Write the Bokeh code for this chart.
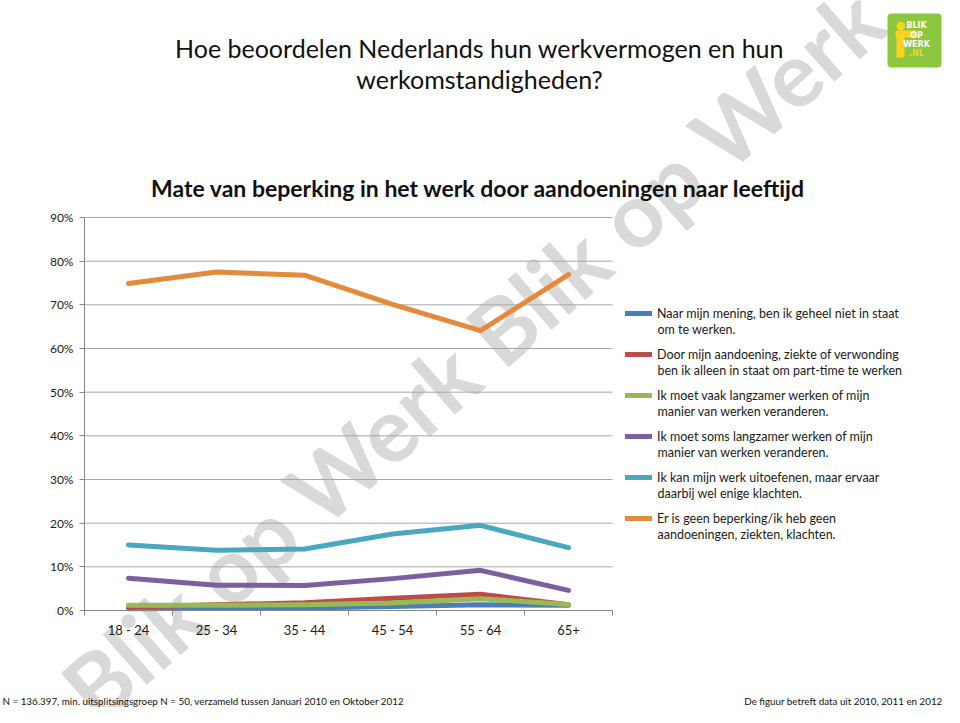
from bokeh.plotting import figure
from bokeh.models import FixedTicker, Label, Legend, LegendItem, BoxAnnotation, PolyAnnotation, Range1d
from bokeh.embed import file_html
from bokeh.resources import INLINE
import numpy as np

categories = ["18 - 24", "25 - 34", "35 - 44", "45 - 54", "55 - 64", "65+"]

geheel_niet = [0.4, 0.5, 0.6, 0.9, 1.3, 1.2]
part_time = [0.8, 1.3, 1.8, 2.8, 3.7, 1.3]
vaak_langzamer = [1.2, 1.2, 1.3, 1.7, 2.7, 1.4]
soms_langzamer = [7.4, 5.8, 5.7, 7.3, 9.2, 4.6]
enige_klachten = [15.0, 13.8, 14.1, 17.5, 19.5, 14.4]
geen_beperking = [74.9, 77.5, 76.8, 70.1, 64.1, 76.9]

series_names = [
    ("Naar mijn mening, ben ik geheel niet in staat", "om te werken."),
    ("Door mijn aandoening, ziekte of verwonding", "ben ik alleen in staat om part-time te werken"),
    ("Ik moet vaak langzamer werken of mijn", "manier van werken veranderen."),
    ("Ik moet soms langzamer werken of mijn", "manier van werken veranderen."),
    ("Ik kan mijn werk uitoefenen, maar ervaar", "daarbij wel enige klachten."),
    ("Er is geen beperking/ik heb geen", "aandoeningen, ziekten, klachten."),
]
series_values = [geheel_niet, part_time, vaak_langzamer, soms_langzamer, enige_klachten, geen_beperking]
colors = ["#4a7ebb", "#be4b48", "#98b954", "#7d5fa0", "#4aa7c0", "#e5893b"]

y_ticks = [0, 10, 20, 30, 40, 50, 60, 70, 80, 90]
y_tick_labels = {t: f"{t}%" for t in y_ticks}

title_lines = ["Hoe beoordelen Nederlands hun werkvermogen en hun", "werkomstandigheden?"]
chart_title = "Mate van beperking in het werk door aandoeningen naar leeftijd"
footer_left = "N = 136.397, min. uitsplitsingsgroep N = 50, verzameld tussen Januari 2010 en Oktober 2012"
footer_right = "De figuur betreft data uit 2010, 2011 en 2012"
watermark = "Blik op Werk Blik op Werk"
logo_lines = ["BLIK", "OP", "WERK", ".NL"]

FONT = "Lato"
NCAT = len(categories)
YMAX = 90
PX_PER_CAT = 88.0
PX_PER_PCT = 393.0 / YMAX


def dx(px):
    # page-pixel x -> data x
    return (px - 84) / PX_PER_CAT


def dy(py):
    # page-pixel y -> data y
    return (610 - py) / PX_PER_PCT


W, H = 944, 707
p = figure(width=W, height=H, title=None,
           x_range=Range1d(dx(0), dx(W)), y_range=Range1d(dy(H), dy(0)),
           output_backend="svg", toolbar_location=None, min_border=0)
p.outline_line_color = None
p.background_fill_color = "white"
p.border_fill_color = "white"

# watermark
p.add_layout(Label(x=dx(472), y=dy(352), text=watermark, angle=0.72,
                   text_align="center", text_baseline="middle",
                   text_font=FONT, text_font_style="bold", text_font_size="90px",
                   text_color="#d9d9d9", level="underlay"))

# gridlines at the y ticks, spanning the category extent
p.segment(x0=0, x1=NCAT, y0=y_ticks, y1=y_ticks, line_color="#a6a6a6", line_width=1)

xs = np.arange(NCAT) + 0.5

renderers = []
for vals, c in zip(series_values, colors):
    r = p.line(xs, vals, line_width=5, line_color=c, line_cap="round", line_join="round")
    renderers.append(r)

p.xgrid.visible = False
p.ygrid.visible = False

# axes
xa = p.xaxis[0]
xa.fixed_location = 0
xa.bounds = (0, NCAT)
xa.ticker = FixedTicker(ticks=list(xs), minor_ticks=list(range(NCAT + 1)))
xa.major_label_overrides = {float(x): c for x, c in zip(xs, categories)}
xa.major_tick_out = 0
xa.major_tick_in = 0
xa.minor_tick_out = 5
xa.minor_tick_in = 0
xa.minor_tick_line_color = "#868686"
xa.axis_line_color = "#868686"
xa.major_label_standoff = 6
xa.major_label_text_font = FONT
xa.major_label_text_font_size = "13px"
xa.major_label_text_color = "#1a1a1a"

ya = p.yaxis[0]
ya.fixed_location = 0
ya.bounds = (0, YMAX)
ya.ticker = FixedTicker(ticks=y_ticks, minor_ticks=[])
ya.major_label_overrides = y_tick_labels
ya.major_tick_out = 5
ya.major_tick_in = 0
ya.major_tick_line_color = "#868686"
ya.axis_line_color = "#868686"
ya.minor_tick_line_color = None
ya.major_label_standoff = 6
ya.major_label_text_font = FONT
ya.major_label_text_font_size = "12px"
ya.major_label_text_color = "#1a1a1a"

# legend (first lines in legend, second lines as labels)
LEG_FS = "12.5px"
items = [LegendItem(label=n[0], renderers=[r]) for n, r in zip(series_names, renderers)]
legend = Legend(items=items, location=(625, 181), orientation="vertical",
                glyph_width=27, glyph_height=16, label_height=16, spacing=25,
                padding=0, margin=0, label_standoff=5,
                border_line_color=None, background_fill_alpha=0,
                label_text_font=FONT, label_text_font_size=LEG_FS, label_text_color="#1a1a1a")
p.add_layout(legend)
for i, n in enumerate(series_names):
    p.add_layout(Label(x=dx(657), y=dy(329 + 41 * i), text=n[1], text_align="left",
                       text_baseline="middle", text_font=FONT, text_font_size=LEG_FS,
                       text_color="#1a1a1a"))

# titles
p.add_layout(Label(x=dx(479), y=dy(47), text=title_lines[0], text_align="center",
                   text_baseline="middle", text_font=FONT, text_font_size="25px", text_color="#111"))
p.add_layout(Label(x=dx(479), y=dy(78), text=title_lines[1], text_align="center",
                   text_baseline="middle", text_font=FONT, text_font_size="25px", text_color="#111"))
p.add_layout(Label(x=dx(478), y=dy(187), text=chart_title, text_align="center",
                   text_baseline="middle", text_font=FONT, text_font_style="bold",
                   text_font_size="23px", text_color="#111"))

# footer
p.add_layout(Label(x=dx(2), y=dy(700), text=footer_left, text_align="left",
                   text_baseline="middle", text_font=FONT, text_font_size="9.8px", text_color="#111"))
p.add_layout(Label(x=dx(942), y=dy(700), text=footer_right, text_align="right",
                   text_baseline="middle", text_font=FONT, text_font_size="9.8px", text_color="#111"))

# logo
p.add_layout(BoxAnnotation(left=dx(887), right=dx(941), top=dy(13), bottom=dy(67),
                           fill_color="#8dc63f", fill_alpha=1, line_color=None,
                           border_radius=4, level="overlay"))
p.add_layout(PolyAnnotation(xs=[dx(895), dx(916), dx(916), dx(904), dx(904), dx(896), dx(896), dx(895)],
                            ys=[dy(30), dy(30), dy(37), dy(37), dy(57), dy(57), dy(37), dy(37)],
                            fill_color="#fcd21c", fill_alpha=1, line_color=None, level="overlay"))
p.add_layout(Label(x=dx(900), y=dy(25), text="\u25cf", text_align="center", text_baseline="middle",
                   text_font="DejaVu Sans", text_font_size="11px", text_color="#fcd21c",
                   level="overlay"))
for t, yy, col in zip(logo_lines, [25, 35, 44, 53], ["white", "white", "white", "#fcd21c"]):
    p.add_layout(Label(x=dx(916), y=dy(yy), text=t, text_align="center", text_baseline="middle",
                       text_font="DejaVu Sans", text_font_style="bold", text_font_size="8px",
                       text_color=col, level="overlay"))

open("out.html", "w").write(file_html(p, INLINE))
